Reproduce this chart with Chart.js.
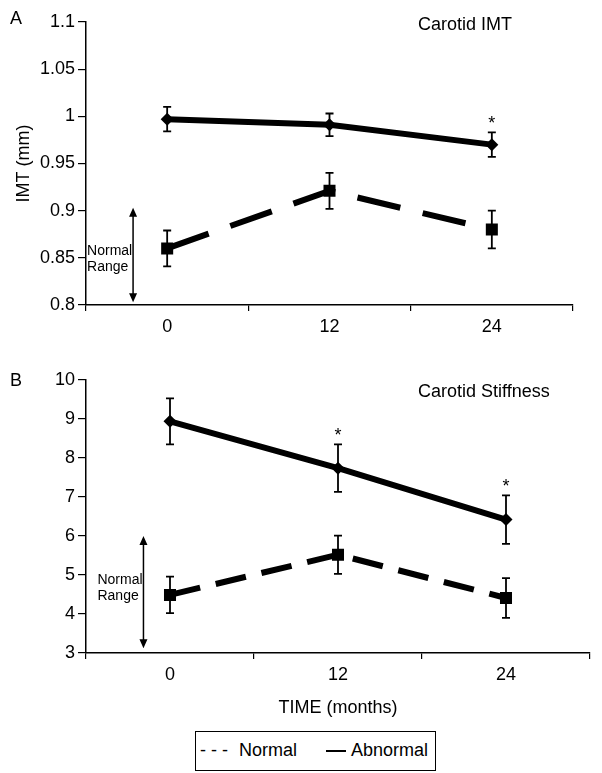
<!DOCTYPE html>
<html>
<head>
<meta charset="utf-8">
<script src="https://cdn.jsdelivr.net/npm/chart.js@4.4.0/dist/chart.umd.min.js"></script>
<style>
  body { margin: 0; background: #fff; width: 602px; height: 773px; position: relative; overflow: hidden;
         font-family: 'Liberation Sans', Arial, sans-serif; }
  canvas { position: absolute; left: 0; }
  #legend { position: absolute; left: 195px; top: 731px; width: 241px; height: 40px;
            border: 1.5px solid #000; box-sizing: border-box; font-size: 18px; color: #000; }
  #legend span { position: absolute; top: 8px; line-height: 21px; white-space: pre; }
  #legend .solid { top: 18px; width: 20px; height: 0; border-top: 2px solid #000; }
</style>
</head>
<body>
<canvas id="chartA" width="602" height="345" style="top:0"></canvas>
<canvas id="chartB" width="602" height="380" style="top:345px"></canvas>
<div id="legend">
  <span style="left:4px">- - -</span>
  <span style="left:43px">Normal</span>
  <span class="solid" style="left:130px"></span>
  <span style="left:155px">Abnormal</span>
</div>
<script>
// Time points (months)
const months = ['0', '12', '24'];

// Panel A: carotid IMT (mm)
const imtNormal = [0.860, 0.921, 0.880];
const imtNormalErr = [0.019, 0.019, 0.020];
const imtAbnormal = [0.997, 0.991, 0.970];
const imtAbnormalErr = [0.013, 0.012, 0.013];
const imtStars = ['', '', '*'];
const imtRange = [0.803, 0.903];

// Panel B: carotid stiffness
const stiffNormal = [4.49, 5.52, 4.41];
const stiffNormalErr = [0.47, 0.49, 0.51];
const stiffAbnormal = [8.94, 7.74, 6.42];
const stiffAbnormalErr = [0.59, 0.61, 0.62];
const stiffStars = ['', '*', '*'];
const stiffRange = [3.12, 6.0];

Chart.defaults.font.family = "'Liberation Sans', Arial, sans-serif";
Chart.defaults.color = '#000';

// error bars, asterisks, normal range arrow, titles
const extras = {
    id: 'extras',
    beforeDatasetsDraw(chart) {
        const ctx = chart.ctx, x = chart.scales.x, y = chart.scales.y;
        ctx.save();
        ctx.strokeStyle = '#000';
        ctx.lineWidth = 1.8;
        chart.data.datasets.forEach(ds => {
            ds.data.forEach((v, i) => {
                const px = x.getPixelForValue(i);
                const top = y.getPixelForValue(v + ds.err[i]);
                const bot = y.getPixelForValue(v - ds.err[i]);
                ctx.beginPath();
                ctx.moveTo(px, top); ctx.lineTo(px, bot);
                ctx.moveTo(px - 4, top); ctx.lineTo(px + 4, top);
                ctx.moveTo(px - 4, bot); ctx.lineTo(px + 4, bot);
                ctx.stroke();
            });
        });
        ctx.restore();
    },
    afterDraw(chart, args, opts) {
        const ctx = chart.ctx, x = chart.scales.x, y = chart.scales.y;
        ctx.save();
        ctx.fillStyle = '#000';
        ctx.strokeStyle = '#000';

        // significance stars above abnormal error bars
        const ab = chart.data.datasets[1];
        ctx.font = "18px 'Liberation Sans', Arial, sans-serif";
        ctx.textAlign = 'center';
        ctx.textBaseline = 'alphabetic';
        opts.stars.forEach((s, i) => {
            if (!s) return;
            const top = y.getPixelForValue(ab.data[i] + ab.err[i]);
            ctx.fillText(s, x.getPixelForValue(i), top - 3);
        });

        // normal range double arrow
        const ax = x.getPixelForValue(opts.arrowX);
        const y1 = y.getPixelForValue(opts.range[1]);
        const y0 = y.getPixelForValue(opts.range[0]);
        ctx.lineWidth = 1.5;
        ctx.beginPath();
        ctx.moveTo(ax, y1 + 6); ctx.lineTo(ax, y0 - 6);
        ctx.stroke();
        ctx.beginPath();
        ctx.moveTo(ax, y1); ctx.lineTo(ax - 4, y1 + 9); ctx.lineTo(ax + 4, y1 + 9); ctx.closePath();
        ctx.moveTo(ax, y0); ctx.lineTo(ax - 4, y0 - 9); ctx.lineTo(ax + 4, y0 - 9); ctx.closePath();
        ctx.fill();

        ctx.font = "14px 'Liberation Sans', Arial, sans-serif";
        ctx.textAlign = 'left';
        ctx.textBaseline = 'middle';
        const ly = y.getPixelForValue(opts.labelY);
        ctx.fillText('Normal', ax - 46, ly - 8);
        ctx.fillText('Range', ax - 46, ly + 8);

        // panel title and letter
        ctx.font = "18px 'Liberation Sans', Arial, sans-serif";
        ctx.fillText(opts.title, 418, opts.titleY);
        ctx.fillText(opts.letter, 10, opts.letterY);
        ctx.restore();
    }
};

function makeChart(id, normal, normalErr, abnormal, abnormalErr, cfg) {
    return new Chart(document.getElementById(id), {
        type: 'line',
        data: {
            labels: months,
            datasets: [{
                label: 'Normal',
                data: normal,
                err: normalErr,
                borderColor: '#000',
                borderWidth: 6,
                borderDash: cfg.dash,
                tension: 0,
                pointStyle: 'rect',
                pointRadius: 8.5,
                pointBackgroundColor: '#000',
                pointBorderWidth: 0
            }, {
                label: 'Abnormal',
                data: abnormal,
                err: abnormalErr,
                borderColor: '#000',
                borderWidth: 6,
                tension: 0,
                pointStyle: 'rectRot',
                pointRadius: 6.5,
                pointBackgroundColor: '#000',
                pointBorderWidth: 0
            }]
        },
        options: {
            responsive: false,
            animation: false,
            layout: { padding: cfg.padding },
            plugins: {
                legend: { display: false },
                tooltip: { enabled: false },
                extras: cfg.extras
            },
            scales: {
                x: {
                    offset: true,
                    grid: { offset: true, drawOnChartArea: false, color: '#000', tickLength: 6, lineWidth: 1.2 },
                    border: { color: '#000', width: 1.5 },
                    ticks: { font: { size: 18 }, padding: 5, maxRotation: 0 },
                    title: cfg.xTitle,
                    afterFit: s => { s.height = cfg.xHeight; }
                },
                y: {
                    min: cfg.min,
                    max: cfg.max,
                    grid: { drawOnChartArea: false, color: '#000', tickLength: 8, lineWidth: 1.2 },
                    border: { color: '#000', width: 1.5 },
                    ticks: { stepSize: cfg.step, font: { size: 18 }, padding: 3, callback: v => String(+v.toFixed(2)) },
                    title: cfg.yTitle,
                    afterFit: s => { s.width = 86; }
                }
            }
        },
        plugins: [extras]
    });
}

makeChart('chartA', imtNormal, imtNormalErr, imtAbnormal, imtAbnormalErr, {
    dash: [44, 23],
    padding: { top: 22, right: 29, left: 0, bottom: 0 },
    min: 0.8, max: 1.1, step: 0.05,
    xHeight: 40,
    xTitle: { display: false },
    yTitle: { display: true, text: 'IMT (mm)', font: { size: 18 }, padding: { top: 13, bottom: 0 } },
    extras: { stars: imtStars, range: imtRange, arrowX: -0.21, labelY: 0.849,
              title: 'Carotid IMT', titleY: 25, letter: 'A', letterY: 19 }
});

makeChart('chartB', stiffNormal, stiffNormalErr, stiffAbnormal, stiffAbnormalErr, {
    dash: [31, 16],
    padding: { top: 35, right: 12, left: 0, bottom: 0 },
    min: 3, max: 10, step: 1,
    xHeight: 72,
    xTitle: { display: true, text: 'TIME (months)', font: { size: 18 }, padding: { top: 0, bottom: 6 } },
    yTitle: { display: false },
    extras: { stars: stiffStars, range: stiffRange, arrowX: -0.158, labelY: 4.66,
              title: 'Carotid Stiffness', titleY: 47, letter: 'B', letterY: 36 }
});
</script>
</body>
</html>
